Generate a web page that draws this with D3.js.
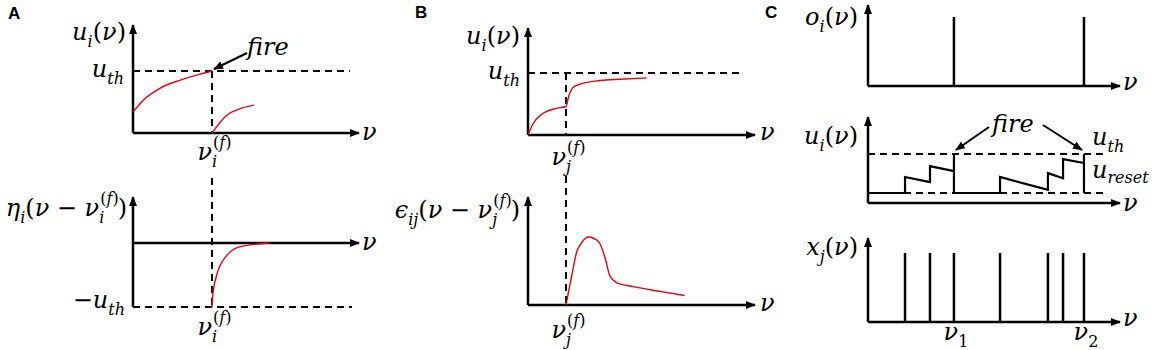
<!DOCTYPE html>
<html>
<head>
<meta charset="utf-8">
<script src="https://cdn.jsdelivr.net/npm/d3@7"></script>
<style>
  body { margin: 0; background: #fff; }
  svg { display: block; }
  .panel { font-family: 'Liberation Sans', Arial, sans-serif; font-weight: bold; font-size: 17px; }
</style>
</head>
<body>
<svg id="canvas" width="1170" height="350"></svg>
<script>
let canvas = d3.select('#canvas')

//////////////////////////////// DATA ////////////////////////////////
// A: nu in units of nu_i^(f), potential in units of u_th
let aRiseNu  = [0, 0.13, 0.34, 0.59, 0.85, 1.0]
let aRiseU   = [0.34, 0.53, 0.72, 0.85, 0.95, 1.0]
let aAfterNu = [1.0, 1.19, 1.35, 1.53]
let aAfterU  = [0, 0.29, 0.39, 0.45]
let aEtaNu   = [1.0, 1.01, 1.06, 1.19, 1.35, 1.73]
let aEtaVal  = [-1, -0.81, -0.5, -0.19, -0.06, 0]
// B: nu in units of nu_j^(f)
let bUNu     = [0, 0.14, 0.4, 0.75, 1.0, 1.07, 1.19, 1.37, 1.9, 2.42, 3.12]
let bUVal    = [0, 0.19, 0.35, 0.43, 0.46, 0.62, 0.77, 0.82, 0.88, 0.90, 0.92]
let bEpsNu   = [1.0, 1.1, 1.19, 1.28, 1.37, 1.59, 1.86, 2.03, 2.16, 2.33, 2.77, 3.47, 4.12]
let bEpsVal  = [0, 0.29, 0.54, 0.78, 0.88, 1.0, 0.93, 0.69, 0.42, 0.33, 0.27, 0.20, 0.14]
// C: spike times (arbitrary units 0..10), potential 0 = u_reset, 1 = u_th
let outSpikes = [3.41, 8.57]
let inSpikes  = [1.47, 2.46, 3.41, 5.24, 7.14, 7.74, 8.57]
let traceNu = [0, 1.47, 1.47, 2.46, 2.46, 3.41, 3.41, 3.41, 5.24, 5.24, 7.14, 7.14, 7.74, 7.74, 8.57, 8.57, 8.57]
let traceU  = [0, 0, 0.41, 0.28, 0.69, 0.56, 1, 0, 0, 0.41, 0.08, 0.51, 0.38, 0.87, 0.77, 1, 0]

//////////////////////////////// HELPERS ////////////////////////////////
canvas.append('defs').append('marker')
    .attr('id', 'head')
    .attr('viewBox', '0 0 10 8')
    .attr('refX', 9).attr('refY', 4)
    .attr('markerWidth', 10).attr('markerHeight', 8)
    .attr('markerUnits', 'userSpaceOnUse')
    .attr('orient', 'auto')
    .append('path').attr('d', 'M0,0L10,4L0,8z').attr('fill', '#000')

let seg = (x1, y1, x2, y2, opt = {}) => {
    let l = canvas.append('line')
        .attr('x1', x1).attr('y1', y1).attr('x2', x2).attr('y2', y2)
        .attr('stroke', '#000')
        .attr('stroke-width', opt.w || 2.5)
    if (opt.dash) l.attr('stroke-dasharray', '7,5').attr('stroke-width', opt.w || 2)
    if (opt.arrow) l.attr('marker-end', 'url(#head)')
    return l
}

// y axis from bottom to arrow tip, x axis from the y axis to arrow tip
let axes = (ox, yBottom, yTip, xAxisY, xTip) => {
    seg(ox, yBottom, ox, yTip, {arrow: true})
    seg(ox, xAxisY, xTip, xAxisY, {arrow: true})
}

let curve = (xs, ys, sx, sy, color, w, c) => {
    let pts = xs.map((v, i) => [sx(v), sy(ys[i])])
    canvas.append('path')
        .attr('d', d3.line().curve(c || d3.curveMonotoneX)(pts))
        .attr('fill', 'none')
        .attr('stroke', color)
        .attr('stroke-width', w)
        .attr('stroke-linejoin', 'miter')
}

let it = (s) => [[s, 1]]
let rm = (s) => [[s, 0]]
let paren = (s) => [['(', 0], [s, 1], [')', 0]]

let BASE = 24, SMALL = 16

let put = (g, x, y, size, runs) => {
    let t = g.append('text').attr('x', x).attr('y', y)
        .attr('font-size', size)
        .attr('font-family', "'DejaVu Serif', 'Liberation Serif', serif")
    runs.forEach(r => t.append('tspan').text(r[0]).attr('font-style', r[1] ? 'italic' : 'normal'))
    return t.node().getComputedTextLength()
}

// small math label: items of {b: base runs, sub: runs, sup: runs}
let tex = (x, y, items, anchor, subDy) => {
    let g = canvas.append('g')
    let cx = 0
    let firstBase = 0
    items.forEach((item, i) => {
        if (item.b) {
            let w = put(g, cx, 0, BASE, item.b)
            if (i === 0) firstBase = w
            cx += w
        }
        let w2 = 0
        if (item.sub) w2 = Math.max(w2, put(g, cx, subDy || 7, SMALL, item.sub))
        if (item.sup) w2 = Math.max(w2, put(g, cx + 1, -12, SMALL, item.sup))
        cx += w2
    })
    let dx = 0
    if (anchor === 'end') dx = -cx
    else if (anchor === 'middle') dx = -cx / 2
    else if (anchor === 'base') dx = -firstBase
    g.attr('transform', 'translate(' + (x + dx) + ',' + y + ')')
}

let nuAxis = (x, y) => tex(x, y, [{b: it('ν')}], 'start')
let fSup = paren('f')

//////////////////////////////// PANEL A ////////////////////////////////
let aX = d3.scaleLinear().domain([0, 1]).range([133, 212])
let aTopY = d3.scaleLinear().domain([0, 1]).range([133, 71])
let aBotY = d3.scaleLinear().domain([-1, 0]).range([307, 243])

seg(aX(0), aTopY(1), 350, aTopY(1), {dash: true})
seg(aX(1), aTopY(1), aX(1), aTopY(0), {dash: true})
axes(aX(0), aTopY(0), 25, aTopY(0), 359)
curve(aRiseNu, aRiseU, aX, aTopY, '#e8000b', 1.4)
curve(aAfterNu, aAfterU, aX, aTopY, '#e8000b', 1.4)
seg(247, 53, 214, 69, {w: 2, arrow: true})

tex(126, 40, [{b: it('u'), sub: it('i')}, {b: paren('ν')}], 'end')
tex(124, 77, [{b: it('u'), sub: it('th')}], 'end')
tex(247, 55, [{b: it('fire')}], 'start')
tex(aX(1), 160, [{b: it('ν'), sub: it('i'), sup: fSup}], 'base')
nuAxis(362, 140)

seg(aX(0), aBotY(-1), 352, aBotY(-1), {dash: true})
seg(aX(1), 178, aX(1), aBotY(-1), {dash: true})
axes(aX(0), aBotY(-1), 197, aBotY(0), 359)
curve(aEtaNu, aEtaVal, aX, aBotY, '#e8000b', 1.4)

tex(127, 216, [{b: it('η'), sub: it('i')}, {b: [['(', 0], ['ν', 1], [' − ', 0], ['ν', 1]], sub: it('i'), sup: fSup}, {b: rm(')')}], 'end')
tex(125, 308, [{b: [['−', 0], ['u', 1]], sub: it('th')}], 'end')
tex(aX(1), 335, [{b: it('ν'), sub: it('i'), sup: fSup}], 'base')
nuAxis(362, 250)

//////////////////////////////// PANEL B ////////////////////////////////
let bX = d3.scaleLinear().domain([0, 1]).range([528, 566])
let bTopY = d3.scaleLinear().domain([0, 1]).range([135, 73])
let bBotY = d3.scaleLinear().domain([0, 1]).range([305, 237])

seg(bX(0), bTopY(1), 742, bTopY(1), {dash: true})
seg(bX(1), bTopY(1), bX(1), bTopY(0), {dash: true})
axes(bX(0), bTopY(0), 28, bTopY(0), 755)
curve(bUNu, bUVal, bX, bTopY, '#e8000b', 1.4)

tex(520, 44, [{b: it('u'), sub: it('i')}, {b: paren('ν')}], 'end')
tex(520, 79, [{b: it('u'), sub: it('th')}], 'end')
tex(bX(1), 165, [{b: it('ν'), sub: it('j'), sup: fSup}], 'base')
nuAxis(760, 140)

seg(bX(1), 176, bX(1), bBotY(0), {dash: true})
axes(bX(0), bBotY(0), 197, bBotY(0), 755)
curve(bEpsNu, bEpsVal, bX, bBotY, '#e8000b', 1.4)

tex(520, 218, [{b: it('ϵ'), sub: it('ij')}, {b: [['(', 0], ['ν', 1], [' − ', 0], ['ν', 1]], sub: it('j'), sup: fSup}, {b: rm(')')}], 'end')
tex(bX(1), 338, [{b: it('ν'), sub: it('j'), sup: fSup}], 'base')
nuAxis(760, 311)

//////////////////////////////// PANEL C ////////////////////////////////
let cX = d3.scaleLinear().domain([0, 10]).range([868, 1120])
let cTopY = d3.scaleLinear().domain([0, 1]).range([86, 17])
let cMidY = d3.scaleLinear().domain([0, 1]).range([193, 154])
let cBotY = d3.scaleLinear().domain([0, 1]).range([322, 253])

// output spikes
axes(cX(0), cTopY(0), 5, cTopY(0), 1120)
outSpikes.forEach(s => seg(cX(s), cTopY(0), cX(s), cTopY(1)))
tex(858, 25, [{b: it('o'), sub: it('i')}, {b: paren('ν')}], 'end')
nuAxis(1123, 90)

// membrane potential
seg(cX(0), cMidY(1), 1107, cMidY(1), {dash: true})
seg(cX(0), cMidY(0), 1107, cMidY(0), {dash: true})
axes(cX(0), 203, 117, 203, 1120)
curve(traceNu, traceU, cX, cMidY, '#000', 2.2, d3.curveLinear)
seg(989, 127, cX(outSpikes[0]) + 2, 150, {w: 2, arrow: true})
seg(1043, 125, cX(outSpikes[1]) - 2, 150, {w: 2, arrow: true})
tex(858, 144, [{b: it('u'), sub: it('i')}, {b: paren('ν')}], 'end')
tex(992, 132, [{b: it('fire')}], 'start')
tex(1092, 145, [{b: it('u'), sub: it('th')}], 'start')
tex(1092, 178, [{b: it('u'), sub: it('reset')}], 'start', 5)
nuAxis(1123, 211)

// input spikes
axes(cX(0), cBotY(0), 238, cBotY(0), 1120)
inSpikes.forEach(s => seg(cX(s), cBotY(0), cX(s), cBotY(1)))
tex(858, 255, [{b: it('x'), sub: it('j')}, {b: paren('ν')}], 'end')
tex(cX(inSpikes[2]) + 2, 340, [{b: it('ν'), sub: rm('1')}], 'middle')
tex(cX(inSpikes[6]) + 2, 340, [{b: it('ν'), sub: rm('2')}], 'middle')
nuAxis(1123, 326)

// panel letters
canvas.append('text').attr('class', 'panel').attr('x', 8).attr('y', 19).text('A')
canvas.append('text').attr('class', 'panel').attr('x', 415).attr('y', 18).text('B')
canvas.append('text').attr('class', 'panel').attr('x', 765).attr('y', 18).text('C')
</script>
</body>
</html>
